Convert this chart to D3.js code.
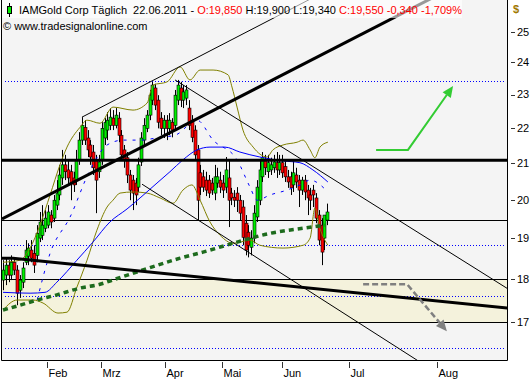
<!DOCTYPE html>
<html>
<head>
<meta charset="utf-8">
<script src="https://cdn.jsdelivr.net/npm/d3@7"></script>
<style>
  body { margin: 0; background: #fff; }
  svg { display: block; }
  text { font-family: "Liberation Sans", Arial, sans-serif; font-size: 11px; }
</style>
</head>
<body>
<svg id="chart" width="532" height="380"></svg>
<script>
// Kursdaten (Tageskerzen, Index = Handelstag ab Anfang Januar)
const opens  = [17.98,18.10,18.34,18.10,18.41,18.22,17.74,17.93,18.41,18.56,18.71,18.63,18.58,19.01,19.08,19.26,19.34,19.60,19.52,19.86,
                20.13,20.59,20.95,20.81,20.76,20.59,20.53,21.09,21.65,22.02,21.71,21.51,21.31,21.09,20.76,21.09,21.71,21.94,22.08,22.29,
                22.08,22.29,21.79,21.37,21.15,20.67,20.53,20.45,20.34,21.03,21.65,21.99,22.38,22.83,23.20,22.83,22.29,21.99,22.23,21.99,
                22.17,22.08,22.83,23.20,22.83,22.89,22.59,22.23,21.94,21.37,20.73,20.62,20.53,20.53,20.45,20.18,20.45,20.53,20.45,20.34,
                20.59,20.18,20.07,20.18,19.99,19.81,19.39,19.16,18.78,19.01,19.55,19.99,20.62,21.09,20.76,20.81,20.87,21.01,20.81,21.01,
                20.90,20.62,20.62,20.40,20.67,20.53,20.26,20.53,20.26,20.13,20.26,20.05,19.60,19.34,19.01,19.47];
const highs  = [18.46,18.51,18.46,18.58,18.51,18.34,18.10,18.41,18.96,18.88,18.96,18.83,19.34,19.68,19.86,19.73,19.86,19.73,20.13,20.53,
                20.95,21.37,21.23,21.09,20.95,20.76,21.37,21.88,22.32,22.23,21.94,21.65,21.51,21.23,21.23,22.17,22.29,22.47,22.59,22.53,
                22.59,22.47,21.94,21.51,21.31,20.81,20.67,20.59,21.15,21.88,22.29,22.53,23.14,23.39,23.33,22.98,22.47,22.38,22.38,22.44,
                22.29,23.14,23.45,23.39,23.29,23.29,22.83,22.38,22.08,21.51,20.95,20.81,20.76,20.67,20.59,20.95,20.87,20.76,20.67,21.17,
                21.09,20.32,20.26,20.34,20.13,19.99,19.60,19.34,19.21,19.86,20.53,21.09,21.31,21.23,21.23,21.15,21.23,21.31,21.23,21.23,
                21.09,20.81,20.76,21.09,20.87,20.67,20.62,20.67,20.40,20.32,20.40,20.18,19.73,19.52,19.60,19.90];
const lows   = [17.74,17.86,17.93,17.98,18.10,17.39,17.56,17.79,18.34,18.34,18.41,18.15,18.41,18.91,18.96,19.16,19.26,19.26,19.42,19.73,
                19.99,20.40,20.53,20.40,19.99,20.21,20.40,20.95,21.51,21.51,21.17,20.95,20.67,19.65,20.59,20.95,21.51,21.65,21.94,21.94,
                21.99,21.59,21.09,20.87,20.45,19.99,19.73,19.86,20.21,20.92,21.51,21.88,22.23,22.68,22.53,21.99,21.79,21.71,21.65,21.79,
                21.73,21.94,22.68,22.62,22.59,22.68,21.94,21.59,21.09,19.47,20.13,20.21,20.10,20.05,20.13,19.99,20.32,20.18,20.05,20.18,
                19.29,19.86,19.81,19.68,19.47,18.83,18.58,18.53,18.58,18.88,19.42,19.86,20.48,20.67,20.59,20.67,20.73,20.59,20.67,20.59,
                20.48,20.32,20.13,20.21,20.32,19.81,20.13,19.99,19.60,19.73,19.81,19.39,18.83,18.34,18.71,19.34];
const closes = [18.22,18.34,18.10,18.41,18.22,17.67,17.98,18.27,18.71,18.76,18.51,18.34,19.13,19.42,19.34,19.52,19.68,19.42,19.99,20.18,
                20.67,20.95,20.76,20.59,20.45,20.40,21.09,21.65,22.08,21.65,21.37,21.17,20.87,20.53,21.03,21.99,22.17,22.23,22.32,22.08,
                22.38,21.79,21.23,21.09,20.67,20.26,20.18,20.13,20.95,21.71,22.08,22.38,22.98,23.29,22.68,22.17,21.99,22.23,21.99,22.23,
                21.94,22.98,23.29,22.83,23.08,23.14,22.08,21.73,21.23,19.99,20.34,20.34,20.26,20.18,20.26,20.62,20.62,20.34,20.26,20.81,
                19.99,20.05,19.99,19.99,19.65,19.03,18.71,18.83,19.01,19.65,20.34,20.81,21.15,20.87,21.01,20.95,21.03,20.81,21.01,20.73,
                20.62,20.48,20.32,20.73,20.48,20.26,20.53,20.21,20.05,19.99,20.13,19.52,18.96,18.66,19.60,19.68];

// Monatsbeschriftung (Position als Balkenindex)
const monthLabels = ["Feb", "Mrz", "Apr", "Mai", "Jun", "Jul", "Aug"];
const monthPos    = [15.7, 34.6, 57.5, 77.8, 98.8, 122.7, 153.8];
const yTicks = [17, 18, 19, 20, 21, 22, 23, 24, 25];

// Indikatoren [Index, Kurs]
const maSlow = [[0,17.69],[9.6,17.67],[14.9,17.69],[19.1,17.93],[26.2,18.46],[31.9,18.91],[37.9,19.42],[44,19.76],[48.6,20.05],
                [54.6,20.45],[59.2,20.76],[63.8,21.09],[68.8,21.37],[73.4,21.45],[78.7,21.45],[84,21.31],[91.1,21.17],[99.3,21.06],
                [105.3,21.01],[109.9,20.81],[115.2,20.48]];
const maFast = [[12.1,17.51],[16.7,18.63],[23.8,19.55],[30.9,20.81],[36.9,21.51],[42.6,21.65],[48.6,21.65],[55.7,21.73],[61,21.79],
                [68.8,22.23],[74.5,21.65],[83,21.09],[87.6,20.34],[90.1,19.99],[94.7,20.13],[100.7,20.26],[105.3,20.40],[108.9,20.53],
                [115.2,20.21]];
const maLong = [[0,17.28],[6,17.39],[12.1,17.51],[19.1,17.63],[27.3,17.79],[34.4,17.88],[39.7,18.00],[48.6,18.20],[62.8,18.51],
                [70.9,18.66],[83,18.91],[94.7,19.13],[106.4,19.26],[114.2,19.34]];
const bbUpper = [[0,18.41],[6,18.46],[9.6,18.76],[13.1,19.34],[16.7,20.13],[20.2,20.95],[22.7,21.45],[27.3,22.02],[29.8,22.23],
                 [34.4,22.14],[39,22.62],[46.1,22.53],[51.1,22.74],[53.2,23.29],[58.2,23.39],[62.8,23.86],[66.3,23.45],[69.9,23.76],
                 [74.5,23.76],[79.8,23.61],[81.2,23.23],[83,22.62],[85.1,21.94],[88.7,21.45],[93.6,21.17],[95.7,21.37],[99.3,21.51],
                 [104.3,21.59],[106.4,21.65],[108.9,21.37],[110.6,21.15],[112.4,21.45],[115.2,21.59]];
const bbLower = [[0,17.28],[5,17.51],[10.6,17.51],[14.2,17.44],[19.5,17.21],[22.7,17.23],[26.2,17.81],[29.8,18.46],[33.3,19.21],
                 [36.9,19.81],[39,19.99],[41.5,20.18],[46.1,20.21],[51.1,20.18],[55.7,20.05],[60.3,19.91],[63.8,20.26],[67,20.40],
                 [69.9,19.99],[73.4,19.42],[77,19.08],[81.6,18.88],[87.6,18.96],[91.1,18.83],[99.3,18.76],[106.4,18.83],[108.9,19.01],
                 [110.6,19.78],[112.4,19.26],[115.2,18.83]];

// Zeichenwerkzeuge
const riseThick  = [[-0.35,19.50],[160,26.54]];
const riseThin   = [[28.0,22.32],[111.8,26.25]];
const fallUpper  = [[61.0,23.45],[179.8,17.74]];
const fallLower  = [[49.3,20.42],[149.6,16.06]];
const fallThick  = [[-0.35,18.51],[3.5,18.51],[179.8,17.32]];
const resistance = 21.08;
const thinLevels = [19.47, 18, 17];
const zone = [17, 18];
const dottedLevels = [23.42, 18.83, 17.60, 16.44];
const upArrow   = [[132.3,21.37],[143.6,21.37],[159.6,23.26]];
const downArrow = [[127.7,17.88],[143.3,17.88],[157.4,16.80]];

// Titelzeile
const titleParts = [
  ["IAMGold Corp Täglich  22.06.2011 - ", "#000"],
  ["O:19,850", "#ff0000"],
  [" H:19,900 L:19,340 ", "#000"],
  ["C:19,550 -0,340 -1,709%", "#ff0000"]
];

const W = 532, H = 380;
const pLeft = 2, pRight = 507, pTop = 0, pBottom = 360;

const x = d3.scaleLinear().domain([0, 179]).range([3, 3 + 179 * 2.82]);
const y = d3.scaleLog().domain([17, 25]).range([322.3, 31.7]);

const svg = d3.select('#chart');
svg.append('rect').attr('width', W).attr('height', H).attr('fill', '#fff');
svg.append('rect').attr('x', pLeft).attr('y', pTop).attr('width', pRight - pLeft).attr('height', pBottom - pTop).attr('fill', '#f4f4f4');

svg.append('clipPath').attr('id', 'plotclip')
  .append('rect').attr('x', pLeft).attr('y', pTop).attr('width', pRight - pLeft).attr('height', pBottom - pTop);
const plot = svg.append('g').attr('clip-path', 'url(#plotclip)');

const crisp = v => Math.round(v) + 0.5;

// Unterstützungszone
plot.append('rect')
  .attr('x', pLeft).attr('width', pRight - pLeft)
  .attr('y', y(zone[1])).attr('height', y(zone[0]) - y(zone[1]))
  .attr('fill', '#f4f2dc');

// gepunktete Linien
plot.selectAll('.dot').data(dottedLevels).enter().append('line')
  .attr('x1', pLeft + 3).attr('x2', pRight - 3)
  .attr('y1', d => crisp(y(d))).attr('y2', d => crisp(y(d)))
  .attr('stroke', '#0000ff').attr('stroke-width', 1).attr('stroke-dasharray', '1,2');

// horizontale Linien
plot.selectAll('.lvl').data(thinLevels).enter().append('line')
  .attr('x1', pLeft).attr('x2', pRight)
  .attr('y1', d => crisp(y(d))).attr('y2', d => crisp(y(d)))
  .attr('stroke', '#000').attr('stroke-width', 1);

// Kerzen
const candles = plot.append('g');
closes.forEach((c, i) => {
  const cx = crisp(x(i));
  candles.append('line')
    .attr('x1', cx).attr('x2', cx)
    .attr('y1', y(highs[i])).attr('y2', y(lows[i]))
    .attr('stroke', '#000').attr('stroke-width', 1);
  const o = opens[i];
  const yt = y(Math.max(o, c)), yb = y(Math.min(o, c));
  candles.append('rect')
    .attr('x', cx - 1.5).attr('width', 3)
    .attr('y', yt).attr('height', Math.max(1, yb - yt))
    .attr('fill', c >= o ? '#00ee00' : '#ff0000')
    .attr('stroke', '#000').attr('stroke-width', 0.6);
});

// Indikatoren
const smooth = d3.line().x(d => x(d[0])).y(d => y(d[1])).curve(d3.curveMonotoneX);
plot.append('path').attr('d', smooth(bbUpper)).attr('fill', 'none').attr('stroke', '#808000').attr('stroke-width', 1);
plot.append('path').attr('d', smooth(bbLower)).attr('fill', 'none').attr('stroke', '#808000').attr('stroke-width', 1);
plot.append('path').attr('d', smooth(maSlow)).attr('fill', 'none').attr('stroke', '#0000ff').attr('stroke-width', 1);
plot.append('path').attr('d', smooth(maFast)).attr('fill', 'none').attr('stroke', '#0000ff').attr('stroke-width', 1)
  .attr('stroke-dasharray', '3,6');
plot.append('path').attr('d', smooth(maLong)).attr('fill', 'none').attr('stroke', '#1d6b1d').attr('stroke-width', 3.5)
  .attr('stroke-dasharray', '5,4');

// Trendlinien
const straight = d3.line().x(d => x(d[0])).y(d => y(d[1]));
plot.append('line')
  .attr('x1', pLeft).attr('x2', pRight)
  .attr('y1', y(resistance)).attr('y2', y(resistance))
  .attr('stroke', '#000').attr('stroke-width', 3);
[[riseThick, 3], [riseThin, 1], [fallUpper, 1], [fallLower, 1], [fallThick, 3]].forEach(([pts, w]) => {
  plot.append('path').attr('d', straight(pts)).attr('fill', 'none').attr('stroke', '#000').attr('stroke-width', w);
});

// Pfeile
function arrow(pts, color, width, dash, len, half) {
  const p = pts.map(d => [x(d[0]), y(d[1])]);
  const a = p[p.length - 2], b = p[p.length - 1];
  const ang = Math.atan2(b[1] - a[1], b[0] - a[0]);
  const base = [b[0] - len * Math.cos(ang), b[1] - len * Math.sin(ang)];
  const nx = -Math.sin(ang) * half, ny = Math.cos(ang) * half;
  plot.append('path').attr('d', d3.line()(p.slice(0, -1).concat([base])))
    .attr('fill', 'none').attr('stroke', color).attr('stroke-width', width)
    .attr('stroke-dasharray', dash);
  plot.append('path')
    .attr('d', d3.line()([b, [base[0] + nx, base[1] + ny], [base[0] - nx, base[1] - ny]]) + 'Z')
    .attr('fill', color);
}
arrow(upArrow, '#33cc33', 2, null, 11, 5);
arrow(downArrow, '#808080', 2.5, '6,3', 11, 5);

// Rahmen
svg.append('path')
  .attr('d', `M${pLeft - 0.5},0 V${pBottom + 0.5} H${pRight + 0.5} V0`)
  .attr('fill', 'none').attr('stroke', '#000').attr('stroke-width', 1);

// y-Achse
const yAxis = svg.append('g');
yAxis.selectAll('line').data(yTicks).enter().append('line')
  .attr('x1', 511).attr('x2', 515)
  .attr('y1', d => crisp(y(d))).attr('y2', d => crisp(y(d)))
  .attr('stroke', '#333');
yAxis.selectAll('text').data(yTicks).enter().append('text')
  .attr('x', 517).attr('y', d => y(d)).attr('dy', '0.36em')
  .text(d => d);
svg.append('text').attr('x', 513).attr('y', 13).attr('fill', '#a07800').attr('font-weight', 'bold').text('$');

// x-Achse
const xAxis = svg.append('g');
monthPos.forEach((m, i) => {
  const px = crisp(x(m));
  xAxis.append('line').attr('x1', px).attr('x2', px).attr('y1', 362).attr('y2', 368).attr('stroke', '#333');
  xAxis.append('text').attr('x', px + 1).attr('y', 377).text(monthLabels[i]);
});

// Titel
svg.append('rect').attr('x', pLeft).attr('y', 0).attr('width', 460).attr('height', 18)
  .attr('fill', '#fff').attr('opacity', 0.6);
svg.append('line').attr('x1', 9.5).attr('x2', 9.5).attr('y1', 3).attr('y2', 17).attr('stroke', '#000');
svg.append('rect').attr('x', 7.5).attr('y', 6.5).attr('width', 4).attr('height', 7)
  .attr('fill', '#00ee00').attr('stroke', '#000');
const title = svg.append('text').attr('x', 19).attr('y', 14).style('white-space', 'pre');
titleParts.forEach(([t, c]) => title.append('tspan').attr('fill', c).text(t));
svg.append('text').attr('x', 3).attr('y', 30).text('© www.tradesignalonline.com');
</script>
</body>
</html>
